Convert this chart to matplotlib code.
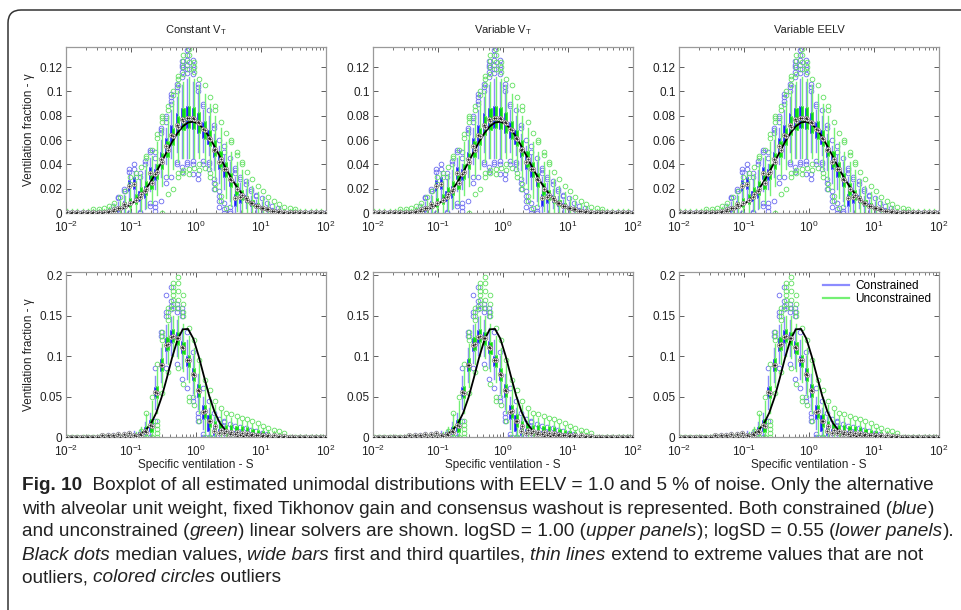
import numpy as np
import matplotlib
matplotlib.use("Agg")
import matplotlib.pyplot as plt
from matplotlib.lines import Line2D
from matplotlib.patches import FancyBboxPatch
from matplotlib.font_manager import FontProperties
from matplotlib.ticker import LogLocator, NullFormatter

FAMILY = ['Liberation Sans Narrow', 'Liberation Sans', 'DejaVu Sans']
plt.rcParams['font.family'] = FAMILY
plt.rcParams['mathtext.fontset'] = 'custom'
plt.rcParams['mathtext.rm'] = 'Liberation Sans'
plt.rcParams['mathtext.it'] = 'Liberation Sans:italic'
plt.rcParams['mathtext.bf'] = 'Liberation Sans:bold'

# ---------------- data ----------------
panel_titles = ['Constant V$_\\mathrm{T}$', 'Variable V$_\\mathrm{T}$', 'Variable EELV']
y_label = 'Ventilation fraction - \u03b3'
x_label = 'Specific ventilation - S'
legend_labels = ['Constrained', 'Unconstrained']
upper_yticks = [0, 0.02, 0.04, 0.06, 0.08, 0.1, 0.12]
upper_yticklabels = ['0', '0.02', '0.04', '0.06', '0.08', '0.1', '0.12']
lower_yticks = [0, 0.05, 0.1, 0.15, 0.2]
lower_yticklabels = ['0', '0.05', '0.1', '0.15', '0.2']

# 50 log-spaced specific-ventilation compartments (10^-2 .. 10^2)
S = np.logspace(-2, 2, 50)

# true distributions (black lines)
truth_upper = [0, 0, 0, 0.00004, 0.00008, 0.00015, 0.00029, 0.00052, 0.00093, 0.0016,
               0.0026, 0.0042, 0.0065, 0.0097, 0.0140, 0.0193, 0.0259, 0.0335, 0.0418, 0.0504,
               0.0586, 0.0657, 0.0712, 0.0744, 0.0751, 0.0732, 0.0689, 0.0625, 0.0547, 0.0464,
               0.0378, 0.0298, 0.0227, 0.0167, 0.0118, 0.0081, 0.0053, 0.0034, 0.0021, 0.0012,
               0.0007, 0.0004, 0.0002, 0.0001, 0, 0, 0, 0, 0, 0]
truth_lower = [0, 0, 0, 0, 0, 0, 0, 0, 0, 0,
               0.0001, 0.0002, 0.0006, 0.0015, 0.0037, 0.0082, 0.0164, 0.0298, 0.0488, 0.0728,
               0.0983, 0.1200, 0.1331, 0.1336, 0.1216, 0.1001, 0.0750, 0.0507, 0.0310, 0.0173,
               0.0087, 0.0040, 0.0016, 0.0006, 0.0002, 0.0001, 0, 0, 0, 0,
               0, 0, 0, 0, 0, 0, 0, 0, 0, 0]

# ---- upper panels (logSD = 1.00), constrained (blue) ----
med_b_u = [0, 0, 0, 0, 0, 0, 0, 0, 0.001, 0.002,
           0.004, 0.007, 0.022, 0.024, 0.013, 0.018, 0.033, 0.032, 0.044, 0.055,
           0.064, 0.072, 0.077, 0.078, 0.078, 0.075, 0.069, 0.062, 0.052, 0.042,
           0.036, 0.028, 0.012, 0.013, 0.012, 0.008, 0.006, 0.004, 0.003, 0.002,
           0.001, 0, 0, 0, 0, 0, 0, 0, 0, 0]
q1_b_u = [0, 0, 0, 0, 0, 0, 0, 0, 0.0005, 0.001,
          0.002, 0.004, 0.018, 0.020, 0.010, 0.012, 0.028, 0.027, 0.040, 0.050,
          0.058, 0.066, 0.069, 0.070, 0.069, 0.066, 0.062, 0.057, 0.046, 0.036,
          0.030, 0.022, 0.006, 0.008, 0.009, 0.006, 0.004, 0.003, 0.002, 0.001,
          0.0005, 0, 0, 0, 0, 0, 0, 0, 0, 0]
q3_b_u = [0, 0, 0, 0, 0, 0, 0, 0.0005, 0.002, 0.003,
          0.006, 0.010, 0.027, 0.030, 0.018, 0.022, 0.038, 0.036, 0.050, 0.062,
          0.072, 0.082, 0.086, 0.088, 0.086, 0.082, 0.075, 0.068, 0.056, 0.047,
          0.040, 0.033, 0.016, 0.016, 0.015, 0.010, 0.008, 0.006, 0.004, 0.003,
          0.002, 0, 0, 0, 0, 0, 0, 0, 0, 0]
lo_b_u = [0, 0, 0, 0, 0, 0, 0, 0, 0, 0,
          0, 0, 0.008, 0.010, 0.002, 0.003, 0.018, 0.020, 0.030, 0.040,
          0.045, 0.050, 0.045, 0.045, 0.045, 0.050, 0.050, 0.048, 0.035, 0.025,
          0.020, 0.010, 0, 0, 0.004, 0.002, 0.001, 0, 0, 0,
          0, 0, 0, 0, 0, 0, 0, 0, 0, 0]
hi_b_u = [0, 0, 0, 0, 0, 0, 0, 0.001, 0.003, 0.005,
          0.009, 0.015, 0.033, 0.034, 0.028, 0.035, 0.045, 0.040, 0.060, 0.070,
          0.085, 0.095, 0.105, 0.110, 0.108, 0.100, 0.085, 0.080, 0.065, 0.055,
          0.048, 0.042, 0.030, 0.025, 0.020, 0.014, 0.011, 0.009, 0.006, 0.004,
          0.003, 0, 0, 0, 0, 0, 0, 0, 0, 0]
out_b_u = {0: [0], 1: [0], 2: [0], 3: [0], 4: [0], 5: [0], 6: [0], 7: [0], 8: [0],
           9: [0.006], 10: [0.012, 0.013], 11: [0.018, 0.020], 12: [0.034, 0.036, 0.0],
           13: [0.036, 0.040], 14: [0.030, 0.033, 0.0, 0.001], 15: [0.040, 0.043],
           16: [0.050, 0.052, 0.006, 0.008], 17: [0.045, 0.050, 0.002, 0.005, 0.008],
           18: [0.066, 0.068, 0.070, 0.010], 19: [0.075, 0.078, 0.080, 0.025, 0.030],
           20: [0.090, 0.092, 0.095, 0.098, 0.030], 21: [0.100, 0.104, 0.106, 0.040, 0.042],
           22: [0.112, 0.116, 0.120, 0.122, 0.125, 0.034, 0.038],
           23: [0.115, 0.118, 0.122, 0.126, 0.130, 0.134, 0.040, 0.042],
           24: [0.114, 0.118, 0.122, 0.126, 0.040, 0.043, 0.032],
           25: [0.100, 0.104, 0.106, 0.028, 0.032], 26: [0.088, 0.090, 0.040, 0.043],
           27: [0.085, 0.036, 0.040, 0.042], 28: [0.070, 0.072, 0.020, 0.025, 0.028],
           29: [0.060, 0.005, 0.010, 0.014, 0.018], 30: [0.050, 0.055, 0.0, 0.003, 0.008],
           31: [0.045, 0.0, 0.002, 0.005], 32: [0.033, 0.035, 0.037], 33: [0.028, 0.030],
           34: [0.024, 0.026], 35: [0.018, 0.020], 36: [0.014, 0.015], 37: [0.012],
           38: [0.008], 39: [0.006], 40: [0.004], 41: [0], 42: [0], 43: [0], 44: [0],
           45: [0], 46: [0], 47: [0], 48: [0], 49: [0]}

# ---- upper panels, unconstrained (green) ----
med_g_u = [0.001, 0.001, 0.001, 0.001, 0.001, 0.001, 0.001, 0.001, 0.002, 0.003,
           0.004, 0.006, 0.008, 0.011, 0.016, 0.020, 0.025, 0.034, 0.042, 0.052,
           0.063, 0.071, 0.076, 0.078, 0.077, 0.074, 0.068, 0.061, 0.053, 0.044,
           0.036, 0.027, 0.020, 0.015, 0.011, 0.008, 0.006, 0.004, 0.003, 0.002,
           0.002, 0.001, 0.001, 0.001, 0.001, 0.001, 0.001, 0.001, 0.001, 0.001]
q1_g_u = [0.0005, 0.0005, 0.0005, 0.0005, 0.0005, 0.0005, 0.0005, 0.0005, 0.001, 0.002,
          0.003, 0.004, 0.005, 0.007, 0.012, 0.015, 0.020, 0.028, 0.036, 0.046,
          0.056, 0.064, 0.068, 0.070, 0.069, 0.066, 0.061, 0.055, 0.047, 0.038,
          0.030, 0.021, 0.015, 0.011, 0.008, 0.006, 0.004, 0.003, 0.002, 0.0015,
          0.001, 0.0005, 0.0005, 0.0005, 0.0005, 0.0005, 0.0005, 0.0005, 0.0005, 0.0005]
q3_g_u = [0.0015, 0.0015, 0.0015, 0.0015, 0.0015, 0.0015, 0.0015, 0.0015, 0.003, 0.004,
          0.006, 0.009, 0.012, 0.016, 0.021, 0.026, 0.031, 0.040, 0.049, 0.059,
          0.070, 0.080, 0.086, 0.088, 0.087, 0.083, 0.076, 0.068, 0.060, 0.051,
          0.042, 0.033, 0.025, 0.019, 0.014, 0.011, 0.008, 0.006, 0.004, 0.003,
          0.0025, 0.0015, 0.0015, 0.0015, 0.0015, 0.0015, 0.0015, 0.0015, 0.0015, 0.0015]
lo_g_u = [0, 0, 0, 0, 0, 0, 0, 0, 0, 0,
          0, 0, 0, 0, 0.002, 0.004, 0.008, 0.015, 0.022, 0.030,
          0.036, 0.042, 0.045, 0.045, 0.045, 0.045, 0.042, 0.036, 0.028, 0.020,
          0.012, 0.006, 0.002, 0, 0, 0, 0, 0, 0, 0,
          0, 0, 0, 0, 0, 0, 0, 0, 0, 0]
hi_g_u = [0.003, 0.003, 0.003, 0.003, 0.003, 0.003, 0.003, 0.003, 0.005, 0.007,
          0.010, 0.014, 0.020, 0.026, 0.032, 0.040, 0.047, 0.058, 0.070, 0.080,
          0.092, 0.100, 0.108, 0.112, 0.110, 0.105, 0.098, 0.090, 0.080, 0.070,
          0.058, 0.050, 0.042, 0.035, 0.028, 0.022, 0.017, 0.013, 0.010, 0.007,
          0.005, 0.003, 0.003, 0.003, 0.003, 0.003, 0.003, 0.003, 0.003, 0.003]
out_g_u = {5: [0.0035], 6: [0.0035], 7: [0.004], 8: [0.006], 9: [0.008], 10: [0.013],
           11: [0.018], 12: [0.024, 0.030], 13: [0.030, 0.033], 14: [0.038],
           15: [0.045, 0.047], 16: [0.052], 17: [0.062, 0.065], 18: [0.075, 0.078, 0.080, 0.0],
           19: [0.085, 0.088, 0.016], 20: [0.097, 0.100, 0.020],
           21: [0.105, 0.110, 0.113, 0.030, 0.033],
           22: [0.114, 0.120, 0.125, 0.130, 0.033, 0.035],
           23: [0.118, 0.124, 0.130, 0.135, 0.032, 0.036],
           24: [0.116, 0.120, 0.124, 0.037], 25: [0.110, 0.035, 0.040], 26: [0.105, 0.037],
           27: [0.095, 0.030, 0.033], 28: [0.085, 0.088, 0.020, 0.024], 29: [0.075, 0.010, 0.014],
           30: [0.066, 0.004], 31: [0.058, 0.060], 32: [0.048, 0.050], 33: [0.040, 0.042],
           34: [0.034], 35: [0.028], 36: [0.022], 37: [0.018], 38: [0.013], 39: [0.010],
           40: [0.007], 41: [0.005], 42: [0.004], 43: [0.0035]}

# ---- lower panels (logSD = 0.55), constrained (blue) ----
med_b_l = [0, 0, 0, 0, 0, 0, 0, 0.002, 0.003, 0.003,
           0.004, 0.004, 0.005, 0.003, 0.004, 0.008, 0.015, 0.056, 0.089, 0.114,
           0.124, 0.122, 0.111, 0.095, 0.078, 0.058, 0.031, 0.020, 0.008, 0.005,
           0.005, 0.004, 0.004, 0.003, 0.003, 0.002, 0.002, 0.001, 0.001, 0,
           0, 0, 0, 0, 0, 0, 0, 0, 0, 0]
q1_b_l = [0, 0, 0, 0, 0, 0, 0, 0.001, 0.002, 0.002,
          0.003, 0.003, 0.004, 0.001, 0.002, 0.004, 0.008, 0.050, 0.082, 0.106,
          0.116, 0.115, 0.104, 0.088, 0.070, 0.050, 0.022, 0.008, 0.002, 0.002,
          0.002, 0.002, 0.002, 0.002, 0.002, 0.001, 0.001, 0.0005, 0.0005, 0,
          0, 0, 0, 0, 0, 0, 0, 0, 0, 0]
q3_b_l = [0, 0, 0, 0, 0, 0, 0, 0.003, 0.004, 0.004,
          0.005, 0.005, 0.006, 0.005, 0.006, 0.012, 0.021, 0.062, 0.097, 0.123,
          0.132, 0.130, 0.119, 0.100, 0.085, 0.065, 0.040, 0.027, 0.015, 0.010,
          0.009, 0.008, 0.007, 0.006, 0.005, 0.004, 0.003, 0.002, 0.0015, 0,
          0, 0, 0, 0, 0, 0, 0, 0, 0, 0]
lo_b_l = [0, 0, 0, 0, 0, 0, 0, 0, 0, 0,
          0, 0, 0, 0, 0, 0, 0, 0.035, 0.068, 0.092,
          0.102, 0.100, 0.085, 0.072, 0.055, 0.035, 0.010, 0, 0, 0,
          0, 0, 0, 0, 0, 0, 0, 0, 0, 0,
          0, 0, 0, 0, 0, 0, 0, 0, 0, 0]
hi_b_l = [0, 0, 0, 0, 0, 0, 0, 0.004, 0.005, 0.005,
          0.006, 0.006, 0.008, 0.007, 0.009, 0.018, 0.030, 0.075, 0.110, 0.138,
          0.148, 0.145, 0.135, 0.120, 0.100, 0.078, 0.050, 0.036, 0.025, 0.018,
          0.014, 0.013, 0.011, 0.009, 0.008, 0.006, 0.005, 0.003, 0.002, 0,
          0, 0, 0, 0, 0, 0, 0, 0, 0, 0]
out_b_l = {16: [0.0], 17: [0.085, 0.020], 18: [0.125, 0.130], 19: [0.150, 0.155, 0.175, 0.085],
           20: [0.158, 0.162, 0.168, 0.185], 21: [0.155, 0.160, 0.165, 0.090],
           22: [0.150, 0.155, 0.160, 0.072], 23: [0.130, 0.060], 24: [0.105, 0.045, 0.050],
           25: [0.020, 0.025, 0.030], 26: [0.0, 0.004, 0.060], 27: [0.0, 0.045],
           28: [0.030, 0.0], 29: [0.022], 30: [0.018, 0.020], 31: [0.016], 32: [0.014],
           33: [0.012], 34: [0.011], 35: [0.009], 36: [0.007], 37: [0.005], 38: [0.004]}

# ---- lower panels, unconstrained (green) ----
med_g_l = [0, 0, 0, 0, 0, 0, 0, 0, 0, 0,
           0, 0, 0, 0.001, 0.002, 0.006, 0.013, 0.055, 0.089, 0.115,
           0.125, 0.122, 0.110, 0.095, 0.077, 0.057, 0.032, 0.020, 0.013, 0.009,
           0.007, 0.006, 0.006, 0.005, 0.005, 0.004, 0.003, 0.003, 0.002, 0.002,
           0.001, 0.001, 0, 0, 0, 0, 0, 0, 0, 0]
q1_g_l = [0, 0, 0, 0, 0, 0, 0, 0, 0, 0,
          0, 0, 0, 0, 0.0005, 0.002, 0.006, 0.048, 0.081, 0.107,
          0.117, 0.114, 0.103, 0.087, 0.069, 0.049, 0.024, 0.012, 0.007, 0.005,
          0.004, 0.004, 0.004, 0.003, 0.003, 0.002, 0.002, 0.0015, 0.001, 0.001,
          0.0005, 0.0005, 0, 0, 0, 0, 0, 0, 0, 0]
q3_g_l = [0, 0, 0, 0, 0, 0, 0, 0, 0, 0,
          0, 0, 0, 0.003, 0.006, 0.014, 0.022, 0.063, 0.098, 0.124,
          0.133, 0.130, 0.118, 0.102, 0.085, 0.066, 0.040, 0.028, 0.020, 0.016,
          0.015, 0.015, 0.014, 0.013, 0.012, 0.010, 0.009, 0.007, 0.006, 0.005,
          0.003, 0.002, 0, 0, 0, 0, 0, 0, 0, 0]
lo_g_l = [0, 0, 0, 0, 0, 0, 0, 0, 0, 0,
          0, 0, 0, 0, 0, 0, 0, 0.030, 0.062, 0.090,
          0.100, 0.098, 0.082, 0.068, 0.050, 0.030, 0.005, 0, 0, 0,
          0, 0, 0, 0, 0, 0, 0, 0, 0, 0,
          0, 0, 0, 0, 0, 0, 0, 0, 0, 0]
hi_g_l = [0, 0, 0, 0, 0, 0, 0, 0, 0, 0,
          0, 0, 0, 0.006, 0.012, 0.028, 0.045, 0.085, 0.115, 0.140,
          0.150, 0.150, 0.140, 0.125, 0.110, 0.090, 0.065, 0.050, 0.040, 0.032,
          0.026, 0.024, 0.022, 0.020, 0.018, 0.016, 0.014, 0.011, 0.009, 0.007,
          0.005, 0.004, 0, 0, 0, 0, 0, 0, 0, 0]
out_g_l = {0: [0], 1: [0], 2: [0], 3: [0], 4: [0], 5: [0], 6: [0], 7: [0], 8: [0], 9: [0],
           10: [0], 11: [0], 12: [0], 13: [0.0], 14: [0.008], 15: [0.0, 0.030],
           16: [0.0, 0.050], 17: [0.0, 0.005, 0.010, 0.015, 0.020, 0.090],
           18: [0.120, 0.125, 0.130, 0.055], 19: [0.145, 0.150, 0.155, 0.160, 0.080],
           20: [0.160, 0.165, 0.170, 0.175, 0.180, 0.185, 0.190],
           21: [0.160, 0.170, 0.180, 0.190, 0.198, 0.085],
           22: [0.150, 0.155, 0.165, 0.175, 0.065], 23: [0.135, 0.045, 0.050],
           24: [0.120, 0.040], 25: [0.095, 0.020], 26: [0.070, 0.0], 27: [0.058, 0.0],
           28: [0.045], 29: [0.036], 30: [0.030], 31: [0.028], 32: [0.026], 33: [0.024],
           34: [0.022], 35: [0.020], 36: [0.017], 37: [0.014], 38: [0.011], 39: [0.009],
           40: [0.007], 41: [0.005], 42: [0], 43: [0], 44: [0], 45: [0], 46: [0], 47: [0],
           48: [0], 49: [0]}

caption_lines = [
    [("Fig. 10", "bold", "normal"),
     ("  Boxplot of all estimated unimodal distributions with EELV = 1.0 and 5 % of noise. Only the alternative", "normal", "normal")],
    [("with alveolar unit weight, fixed Tikhonov gain and consensus washout is represented. Both constrained (", "normal", "normal"),
     ("blue", "normal", "italic"), (")", "normal", "normal")],
    [("and unconstrained (", "normal", "normal"), ("green", "normal", "italic"),
     (") linear solvers are shown. logSD = 1.00 (", "normal", "normal"), ("upper panels", "normal", "italic"),
     ("); logSD = 0.55 (", "normal", "normal"), ("lower panels", "normal", "italic"), (").", "normal", "normal")],
    [("Black dots", "normal", "italic"), (" median values, ", "normal", "normal"), ("wide bars", "normal", "italic"),
     (" first and third quartiles, ", "normal", "normal"), ("thin lines", "normal", "italic"),
     (" extend to extreme values that are not", "normal", "normal")],
    [("outliers, ", "normal", "normal"), ("colored circles", "normal", "italic"), (" outliers", "normal", "normal")],
]

# ---------------- styling ----------------
W, H = 962, 610
BLUE_BOX = '#1a1aff'
BLUE_LINE = '#8c8cff'
BLUE_CIRC = '#6a6af0'
GREEN_BOX = '#10e010'
GREEN_LINE = '#74f074'
GREEN_CIRC = '#5fe05f'

fig = plt.figure(figsize=(W / 100, H / 100), dpi=100)

col_left = [66, 373, 679]
col_w = 260
rows = [(47, 213), (272, 437)]


def add_axes_px(x0, y0, x1, y1):
    return fig.add_axes([x0 / W, 1 - y1 / H, (x1 - x0) / W, (y1 - y0) / H])


def draw_solver(ax, med, q1, q3, lo, hi, outl, box_c, line_c, circ_c, shift):
    pos = S * 10 ** shift
    hw = 0.017
    widths = pos * (10 ** hw - 10 ** (-hw))
    stats = []
    for k in range(len(S)):
        stats.append(dict(med=med[k], q1=q1[k], q3=q3[k], whislo=lo[k], whishi=hi[k],
                          fliers=outl.get(k, [])))
    ax.bxp(stats, positions=pos, widths=widths, patch_artist=True, showcaps=False,
           manage_ticks=False,
           boxprops=dict(facecolor=box_c, edgecolor=box_c, linewidth=0.4),
           whiskerprops=dict(color=line_c, linewidth=1.0),
           medianprops=dict(linewidth=0),
           flierprops=dict(marker='o', markerfacecolor='none', markeredgecolor=circ_c,
                           markersize=3.4, markeredgewidth=0.6))
    return pos


data_rows = [
    dict(truth=truth_upper,
         blue=(med_b_u, q1_b_u, q3_b_u, lo_b_u, hi_b_u, out_b_u),
         green=(med_g_u, q1_g_u, q3_g_u, lo_g_u, hi_g_u, out_g_u),
         ylim=0.1365, yt=upper_yticks, ytl=upper_yticklabels),
    dict(truth=truth_lower,
         blue=(med_b_l, q1_b_l, q3_b_l, lo_b_l, hi_b_l, out_b_l),
         green=(med_g_l, q1_g_l, q3_g_l, lo_g_l, hi_g_l, out_g_l),
         ylim=0.204, yt=lower_yticks, ytl=lower_yticklabels),
]

axes_grid = []
for r, (y0, y1) in enumerate(rows):
    d = data_rows[r]
    row_axes = []
    for c in range(3):
        ax = add_axes_px(col_left[c], y0, col_left[c] + col_w, y1)
        ax.set_xscale('log')
        pb = draw_solver(ax, *d['blue'], BLUE_BOX, BLUE_LINE, BLUE_CIRC, -0.011)
        pg = draw_solver(ax, *d['green'], GREEN_BOX, GREEN_LINE, GREEN_CIRC, 0.011)
        ax.plot(S, d['truth'], color='black', linewidth=1.3, zorder=5)
        for p, m in ((pb, d['blue'][0]), (pg, d['green'][0])):
            ax.plot(p, m, 'o', mfc='white', mec='#6a6a6a', ms=3.3, mew=0.4, zorder=6)
            ax.plot(p, m, '.', color='black', ms=1.0, zorder=7)

        ax.set_xlim(0.01, 100)
        ax.set_ylim(0, d['ylim'])
        ax.set_yticks(d['yt'])
        ax.set_yticklabels(d['ytl'])
        ax.xaxis.set_major_locator(LogLocator(base=10, numticks=10))
        ax.xaxis.set_minor_locator(LogLocator(base=10, subs=np.arange(2, 10), numticks=20))
        ax.xaxis.set_minor_formatter(NullFormatter())
        ax.tick_params(which='both', direction='in', top=True, right=True,
                       colors='#444444', labelcolor='#222222', labelsize=8.5)
        ax.tick_params(axis='y', pad=2.5)
        ax.tick_params(axis='x', pad=5)
        ax.tick_params(which='major', length=3.5, width=0.6)
        ax.tick_params(which='minor', length=2, width=0.5)
        for sp in ax.spines.values():
            sp.set_color('#9a9a9a')
            sp.set_linewidth(0.9)
        if r == 0:
            ax.set_title(panel_titles[c], fontsize=8, color='#222222', pad=10)
        if c == 0:
            ax.set_ylabel(y_label, fontsize=8.5, color='#222222', labelpad=3)
        if r == 1:
            ax.set_xlabel(x_label, fontsize=8.5, color='#222222', labelpad=0)
        row_axes.append(ax)
    axes_grid.append(row_axes)

# legend in lower-right panel
handles = [Line2D([], [], color=BLUE_LINE, linewidth=1.6),
           Line2D([], [], color=GREEN_LINE, linewidth=1.6)]
axes_grid[1][2].legend(handles, legend_labels, loc='upper right', frameon=False,
                       fontsize=8.5, handlelength=2.2, handletextpad=0.5,
                       labelspacing=0.15, borderaxespad=0.25)

# rounded frame
frame = FancyBboxPatch((0.08, -1.0), 12.0, 7.0, boxstyle='round,pad=0,rounding_size=0.13',
                       transform=fig.dpi_scale_trans, facecolor='none',
                       edgecolor='#333333', linewidth=1.1)
fig.patches.append(frame)

# caption
CAP_FAMILY = ['Liberation Sans Narrow', 'Liberation Sans', 'DejaVu Sans']
fig.canvas.draw()
renderer = fig.canvas.get_renderer()


def text_w(s, fs, weight, style):
    fp = FontProperties(family=CAP_FAMILY, size=fs, weight=weight, style=style)
    w1, _, _ = renderer.get_text_width_height_descent('|' + s + '|', fp, ismath=False)
    w0, _, _ = renderer.get_text_width_height_descent('||', fp, ismath=False)
    return w1 - w0


def line_w(segs, fs):
    return sum(text_w(t, fs, wgt, sty) for t, wgt, sty in segs)


base_fs = 14.0
target = 945 - 22
fs = base_fs * target / line_w(caption_lines[0], base_fs)
fs = min(fs, 15.5)
cap_x0 = 22
cap_y = [486, 509, 532, 555, 578]
for li, segs in enumerate(caption_lines):
    x = cap_x0
    for t, wgt, sty in segs:
        fig.text(x / W, 1 - cap_y[li] / H, t, fontsize=fs, fontweight=wgt, fontstyle=sty,
                 family=CAP_FAMILY, color='#222222', va='center', ha='left')
        x += text_w(t, fs, wgt, sty)

fig.savefig('out.png', dpi=100)
